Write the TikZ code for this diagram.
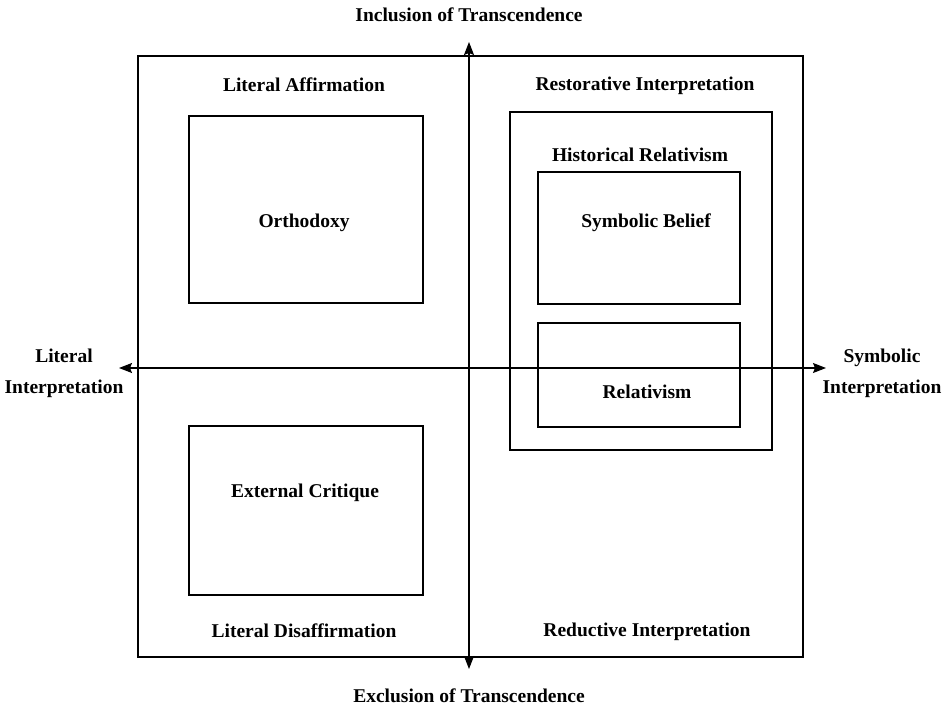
\documentclass[tikz,border=0pt]{standalone}
\usepackage{fontspec}
\setmainfont{Liberation Serif}
\usetikzlibrary{arrows.meta}
\tikzset{
    >=Stealth,
    quad/.style={
        box/.append style={draw,line width=1.1pt,rectangle,inner sep=0pt},
        lbl/.append style={font=\fontsize{19.5}{23}\selectfont\bfseries,align=center,inner sep=0pt},
        axis/.append style={draw,line width=1.1pt,{Stealth[length=13pt,width=10pt,inset=2pt]}-{Stealth[length=13pt,width=10pt,inset=2pt]}}
    }
}
\begin{document}
\begin{tikzpicture}[quad,x=1pt,y=-1pt]
    \useasboundingbox (0,0) rectangle (949,708);
    \draw[line width=1.1pt] (138,56) rectangle (803,657);
    % boxes
    \node[box,minimum width=234pt,minimum height=187pt] (orth) at (306,209.5) {};
    \node[box,minimum width=234pt,minimum height=169pt] (crit) at (306,510.5) {};
    \node[box,minimum width=262pt,minimum height=338pt] (hist) at (641,281) {};
    \node[box,minimum width=202pt,minimum height=132pt] (symb) at (639,238) {};
    \node[box,minimum width=202pt,minimum height=104pt] (rel) at (639,375) {};
    % axes
    \coordinate (top) at (469,42);
    \coordinate (bot) at (469,669);
    \coordinate (lft) at (119,368);
    \coordinate (rgt) at (826,368);
    \path (bot) edge[axis] (top);
    \path (lft) edge[axis] (rgt);
    % labels
    \node[lbl] (incl) at (469,15) {Inclusion of Transcendence};
    \node[lbl] (excl) at (469,696) {Exclusion of Transcendence};
    \node[lbl] (lit) at (64,373) {Literal\\[8pt]Interpretation};
    \node[lbl] (sym) at (882,373) {Symbolic\\[8pt]Interpretation};
    \node[lbl] (aff) at (304,85) {Literal Affirmation};
    \node[lbl] (rest) at (645,86) {Restorative Interpretation};
    \node[lbl] (dis) at (304,631) {Literal Disaffirmation};
    \node[lbl] (red) at (647,632) {Reductive Interpretation};
    \node[lbl] at (304,223) {Orthodoxy};
    \node[lbl] at (305,493) {External Critique};
    \node[lbl] at (640,155) {Historical Relativism};
    \node[lbl] at (646,223) {Symbolic Belief};
    \node[lbl] at (647,392) {Relativism};
\end{tikzpicture}
\end{document}
